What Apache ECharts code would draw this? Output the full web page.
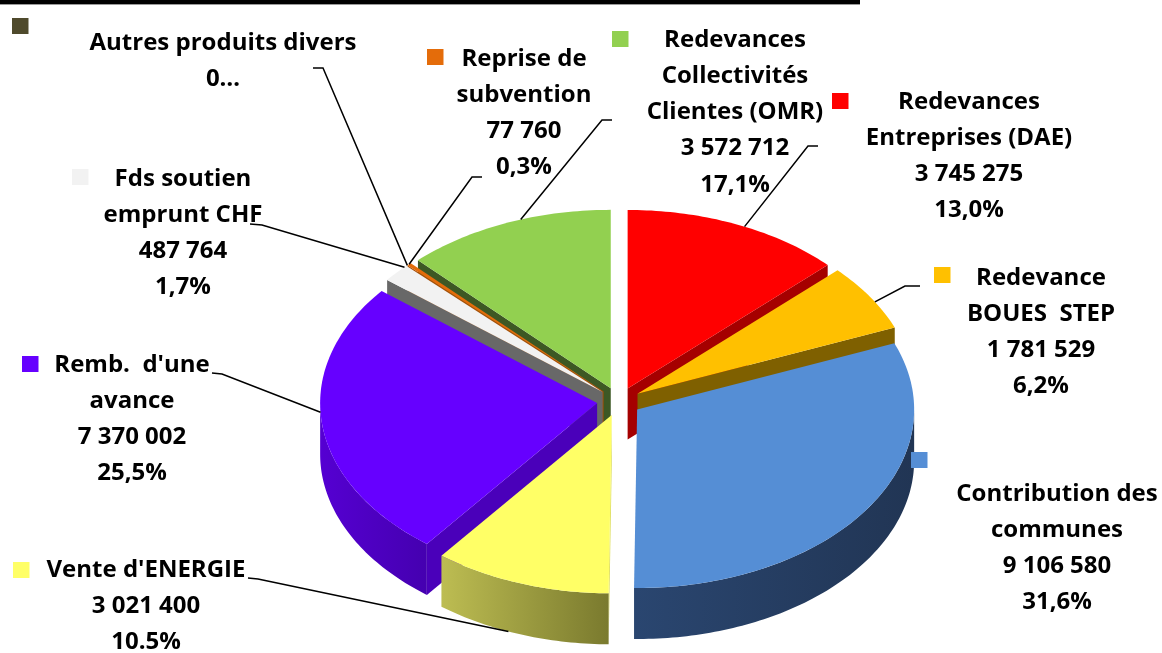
<!DOCTYPE html>
<html>
<head>
<meta charset="utf-8">
<title>Produits</title>
<script src="https://cdn.jsdelivr.net/npm/echarts@6/dist/echarts.min.js"></script>
<style>
  html, body { margin: 0; padding: 0; background: #ffffff; }
  #chart { width: 1162px; height: 653px; }
</style>
</head>
<body>
<div id="chart"></div>
<script>
// ---- data -------------------------------------------------------------
const categories = [
  'Redevances\nEntreprises (DAE)',
  'Redevance\nBOUES  STEP',
  'Contribution des\ncommunes',
  "Vente d'ENERGIE",
  "Remb.  d'une\navance",
  'Fds soutien\nemprunt CHF',
  'Autres produits divers',
  'Reprise de\nsubvention',
  'Redevances\nCollectivités\nClientes (OMR)'
];
const amounts = [3745275, 1781529, 9106580, 3021400, 7370002, 487764, 0, 77760, 3572712];
const shareLabels = ['13,0%', '6,2%', '31,6%', '10.5%', '25,5%', '1,7%', null, '0,3%', '17,1%'];

// ---- styles -----------------------------------------------------------
const topColors  = ['#FF0000', '#FFC000', '#558ED5', '#FFFF66', '#6600FF', '#F2F2F2', '#4F4A2C', '#E46C0A', '#92D050'];
const cutColors  = ['#A50000', '#7F6000', '#22375A', '#DEDE5C', '#4A00BA', '#686868', '#3A3620', '#A84F07', '#3D5824'];
const rimColors  = [
  ['#A50000', '#8C0000'], ['#8A6A00', '#705400'], ['#2A4670', '#213554'],
  ['#BDBD52', '#7A7A2E'], ['#5500D2', '#4500B0'], ['#707070', '#5A5A5A'],
  ['#3A3620', '#3A3620'], ['#B35408', '#99470A'], ['#46662A', '#3A5522']
];

// ---- layout -----------------------------------------------------------
const pie = { cx: 619, cy: 401.5, rx: 277, ry: 178.5, depth: 51, explode: 22 };
const labelFont = 'bold 24px "Open Sans", "DejaVu Sans", sans-serif';
const lineGap = 36.2;
// text centre x, first-line centre y, key square corner, leader start/knee, anchor along slice arc
const labelLayout = [
  { x: 969,  y: 102, key: [832, 93],  lead: [[818, 146], [808, 146]], t: 0.54, h: 0 },
  { x: 1041, y: 278, key: [934, 267], lead: [[920, 286], [905, 286]], t: 0.58, h: 0 },
  { x: 1057, y: 494, key: [911, 452], lead: null },
  { x: 146,  y: 570, key: [13, 562],  lead: [[248, 578], [258, 579]], t: 0.57, h: 1 },
  { x: 132,  y: 365, key: [22, 356],  lead: [[212, 373], [222, 374]], t: 0.54, h: 0 },
  { x: 183,  y: 179, key: [72, 169],  lead: [[250, 224], [262, 225]], t: 0.9,  h: 0 },
  { x: 223,  y: 43,  key: [12, 18],   lead: [[313, 68],  [323, 68]],  t: 0.5,  h: 0 },
  { x: 524,  y: 59,  key: [427, 49],  lead: [[482, 177], [472, 177]], t: 0.5,  h: 0 },
  { x: 735,  y: 40,  key: [612, 31],  lead: [[612, 120], [602, 120]], t: 0.57, h: 0 }
];

// ---- slice geometry (angles clockwise from 12 o'clock) ------------------
const total = amounts.reduce((s, v) => s + v, 0);
const slices = [];
(function () {
  let a = -90;
  const k = pie.ry / pie.rx;
  amounts.forEach(v => {
    const span = v / total * 360;
    const mid = (a + span / 2) * Math.PI / 180;
    slices.push({
      a0: a, a1: a + span,
      ox: pie.explode * Math.cos(mid),
      oy: pie.explode * k * Math.sin(mid)
    });
    a += span;
  });
})();

function pt(g, a, r, h) {
  const rad = a * Math.PI / 180;
  return [pie.cx + g.ox + pie.rx * r * Math.cos(rad),
          pie.cy + g.oy + pie.ry * r * Math.sin(rad) + h * pie.depth];
}
function arc(g, a0, a1, h) {
  const n = Math.max(2, Math.ceil(Math.abs(a1 - a0)));
  const out = [];
  for (let j = 0; j <= n; j++) out.push(pt(g, a0 + (a1 - a0) * j / n, 1, h));
  return out;
}
function fmt(v) {
  return String(v).replace(/\B(?=(\d{3})+(?!\d))/g, ' ');
}

function renderSlice(params, api) {
  const i = params.dataIndex;
  const value = api.value(0);
  const g = slices[i];
  const kids = [];
  if (value > 0) {
    // visible front part of the rim
    const b0 = Math.max(g.a0, 0), b1 = Math.min(g.a1, 180);
    if (b1 > b0) {
      const pts = arc(g, b0, b1, 0).concat(arc(g, b1, b0, 1));
      const c = pt(g, (b0 + b1) / 2, 1, 0.5);
      kids.push({
        type: 'polygon', z2: 100 + (c[1] - pie.cy) / 10,
        shape: { points: pts },
        style: { fill: { type: 'linear', x: 0, y: 0, x2: 1, y2: 0,
          colorStops: [{ offset: 0, color: rimColors[i][0] }, { offset: 1, color: rimColors[i][1] }] } }
      });
    }
    // cut faces that turn towards the viewer
    const cuts = [];
    if (Math.sin((g.a0 - 90) * Math.PI / 180) > 0) cuts.push(g.a0);
    if (Math.sin((g.a1 + 90) * Math.PI / 180) > 0) cuts.push(g.a1);
    cuts.forEach(a => {
      const c = pt(g, a, 0.5, 0.5);
      kids.push({
        type: 'polygon', z2: 100 + (c[1] - pie.cy) / 10,
        shape: { points: [pt(g, a, 0, 0), pt(g, a, 1, 0), pt(g, a, 1, 1), pt(g, a, 0, 1)] },
        style: { fill: cutColors[i] }
      });
    });
    // top face
    kids.push({
      type: 'polygon', z2: 300,
      shape: { points: [pt(g, g.a0, 0, 0)].concat(arc(g, g.a0, g.a1, 0)) },
      style: { fill: topColors[i] }
    });
  }
  // data label with legend key and leader
  const L = labelLayout[i];
  const lines = [categories[i], fmt(value) + (shareLabels[i] == null ? '…' : '')];
  if (shareLabels[i] != null) lines.push(shareLabels[i]);
  kids.push({
    type: 'text', z2: 500, x: L.x, y: L.y - lineGap / 2,
    style: { text: lines.join('\n'), font: labelFont, fill: '#000000',
             align: 'center', verticalAlign: 'top', lineHeight: lineGap }
  });
  kids.push({
    type: 'rect', z2: 500,
    shape: { x: L.key[0], y: L.key[1], width: 16.5, height: 16 },
    style: { fill: topColors[i] }
  });
  if (L.lead) {
    const end = pt(g, g.a0 + (g.a1 - g.a0) * L.t, 1, L.h);
    kids.push({
      type: 'polyline', z2: 450,
      shape: { points: [L.lead[0], L.lead[1], end] },
      style: { stroke: '#000000', lineWidth: 1.5, fill: null }
    });
  }
  return { type: 'group', children: kids };
}

const chart = echarts.init(document.getElementById('chart'), null, { renderer: 'canvas' });
chart.setOption({
  animation: false,
  backgroundColor: '#ffffff',
  graphic: [
    { type: 'rect', shape: { x: 0, y: 0, width: 860, height: 4 }, style: { fill: '#000000' } },
    { type: 'rect', shape: { x: 0, y: 4, width: 860, height: 1 }, style: { fill: '#9a9a9a' } }
  ],
  series: [{
    type: 'custom',
    coordinateSystem: 'none',
    renderItem: renderSlice,
    data: amounts.map((v, i) => ({ name: categories[i].replace(/\n/g, ' '), value: [v] }))
  }]
});
</script>
</body>
</html>
